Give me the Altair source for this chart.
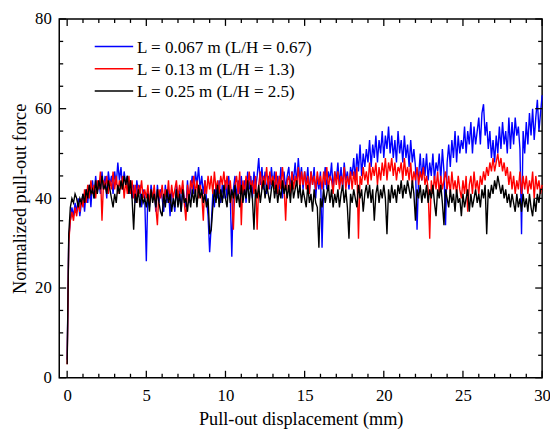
import altair as alt
import pandas as pd

# ---------------- data ----------------
x_start = 0.0
x_step = 0.1

names = ["L = 0.067 m (L/H = 0.67)", "L = 0.13 m (L/H = 1.3)", "L = 0.25 m (L/H = 2.5)"]
colors = ["#0000FF", "#FF0000", "#000000"]

blue = [
    4, 31, 35, 38, 36, 39, 37, 40, 36, 39,
    41, 37, 42, 39, 43, 38, 44, 40, 45, 41,
    44, 41, 46, 42, 45, 40, 46, 43, 45, 41,
    46, 43, 48, 44, 47, 42, 46, 43, 45, 41,
    44, 40, 43, 39, 44, 41, 43, 38, 42, 40,
    26, 42, 38, 43, 40, 42, 37, 43, 39, 42,
    40, 37, 43, 39, 42, 36, 42, 40, 37, 43,
    39, 42, 37, 43, 40, 38, 44, 39, 42, 45,
    41, 46, 43, 47, 42, 45, 41, 44, 40, 36,
    28, 34, 41, 38, 43, 40, 44, 39, 43, 40,
    44, 40, 45, 41, 27, 42, 45, 40, 44, 41,
    45, 40, 44, 39, 46, 42, 45, 40, 46, 42,
    45, 49, 43, 47, 42, 46, 41, 45, 42, 47,
    43, 46, 41, 45, 42, 47, 40, 46, 42, 45,
    47, 42, 46, 44, 48, 43, 49, 44, 47, 42,
    46, 43, 47, 41, 46, 43, 47, 40, 45, 42,
    46, 29, 43, 47, 42, 46, 44, 48, 42, 46,
    44, 48, 43, 47, 42, 48, 44, 46, 42, 47,
    45, 49, 44, 50, 46, 52, 45, 50, 47, 51,
    48, 53, 47, 52, 49, 54, 48, 53, 50, 55,
    49, 54, 51, 56, 50, 54, 49, 53, 48, 55,
    50, 53, 48, 54, 49, 52, 47, 53, 48, 51,
    47, 33, 45, 50, 44, 49, 45, 50, 44, 48,
    45, 50, 44, 48, 46, 50, 44, 51, 46, 34,
    48, 52, 47, 53, 49, 55, 48, 54, 50, 53,
    51, 56, 50, 55, 52, 57, 50, 56, 52, 55,
    58, 52, 59, 61, 54, 57, 51, 55, 49, 53,
    48, 54, 50, 56, 51, 57, 52, 55, 50, 58,
    51, 57, 52, 58, 54, 56, 51, 32, 55, 50,
    57, 52, 59, 54, 60, 53, 58, 62, 55, 59,
    63,
]

red = [
    3, 30, 35, 37, 35, 38, 36, 39, 37, 40,
    38, 42, 39, 43, 40, 44, 41, 43, 40, 44,
    42, 46, 35, 44, 42, 45, 41, 44, 42, 46,
    42, 45, 41, 44, 42, 45, 40, 44, 41, 45,
    41, 44, 40, 43, 39, 43, 41, 44, 40, 42,
    40, 43, 39, 42, 40, 43, 38, 34, 42, 40,
    43, 39, 42, 40, 44, 39, 43, 40, 42, 44,
    40, 43, 41, 44, 39, 35, 43, 40, 44, 42,
    45, 41, 44, 40, 43, 41, 35, 44, 41, 45,
    42, 45, 41, 46, 42, 44, 41, 45, 43, 46,
    42, 45, 41, 44, 40, 33, 43, 45, 41, 46,
    34, 44, 41, 45, 42, 46, 42, 44, 41, 45,
    33, 43, 46, 42, 45, 43, 47, 42, 46, 43,
    45, 42, 46, 41, 45, 42, 47, 43, 35, 44,
    45, 41, 46, 42, 45, 43, 47, 42, 46, 43,
    46, 42, 45, 41, 46, 43, 45, 42, 46, 43,
    45, 42, 46, 43, 47, 42, 45, 44, 41, 46,
    43, 46, 42, 45, 43, 47, 42, 45, 43, 46,
    42, 46, 43, 47, 31, 45, 43, 47, 44, 46,
    43, 48, 44, 47, 45, 48, 43, 47, 44, 48,
    45, 49, 44, 48, 46, 49, 45, 48, 44, 47,
    46, 48, 44, 49, 45, 47, 44, 48, 43, 46,
    44, 47, 43, 46, 44, 47, 43, 45, 42, 31,
    44, 41, 45, 42, 46, 41, 45, 42, 44, 46,
    42, 45, 41, 46, 42, 44, 41, 45, 42, 40,
    44, 41, 45, 37, 43, 45, 41, 46, 42, 44,
    41, 45, 43, 46, 44, 47, 45, 48, 46, 49,
    46, 48, 50, 47, 49, 46, 48, 45, 47, 43,
    46, 42, 45, 41, 44, 42, 46, 41, 45, 42,
    45, 41, 44, 42, 46, 40, 45, 42, 44, 41,
    43,
]

black = [
    3, 32, 38, 40, 39, 41, 40, 38, 40, 39,
    41, 39, 42, 40, 43, 41, 42, 40, 44, 41,
    44, 42, 45, 42, 43, 41, 44, 42, 40, 38,
    41, 39, 43, 41, 44, 42, 45, 43, 45, 41,
    44, 40, 33, 41, 39, 42, 38, 41, 39, 40,
    38, 41, 37, 42, 39, 41, 38, 42, 39, 37,
    36, 41, 38, 42, 39, 41, 37, 40, 38, 42,
    38, 41, 37, 42, 39, 40, 37, 41, 38, 42,
    39, 42, 38, 43, 40, 42, 39, 41, 38, 40,
    32, 33, 38, 42, 39, 43, 38, 42, 39, 43,
    40, 38, 43, 39, 42, 40, 43, 39, 41, 38,
    43, 39, 42, 40, 44, 39, 43, 40, 33, 42,
    40, 43, 39, 42, 44, 40, 43, 41, 39, 42,
    44, 40, 43, 39, 42, 40, 44, 41, 43, 40,
    43, 39, 44, 40, 42, 44, 40, 43, 39, 42,
    40, 38, 43, 39, 41, 37, 42, 39, 38, 29,
    40, 38, 42, 39, 41, 43, 39, 42, 38, 41,
    39, 42, 38, 41, 43, 39, 42, 38, 31, 41,
    39, 42, 40, 38, 43, 40, 42, 37, 41, 43,
    40, 43, 39, 42, 35, 41, 43, 39, 42, 40,
    43, 40, 32, 42, 39, 43, 40, 42, 39, 43,
    41, 44, 40, 43, 41, 44, 42, 40, 44, 41,
    35, 42, 40, 43, 39, 42, 40, 43, 39, 42,
    40, 43, 39, 36, 42, 40, 43, 39, 34, 42,
    40, 38, 42, 39, 41, 37, 42, 39, 40, 36,
    41, 38, 40, 42, 37, 41, 38, 40, 42, 39,
    41, 38, 42, 40, 43, 32, 42, 40, 43, 41,
    44, 42, 45, 43, 41, 43, 40, 42, 39, 41,
    38, 41, 39, 37, 41, 38, 40, 37, 41, 38,
    40, 37, 41, 38, 36, 40, 37, 41, 39, 42,
    42,
]

x_major = [0, 5, 10, 15, 20, 25, 30]
x_minor = [1, 2, 3, 4, 6, 7, 8, 9, 11, 12, 13, 14, 16, 17, 18, 19, 21, 22, 23, 24, 26, 27, 28, 29]
y_major = [0, 20, 40, 60, 80]
y_minor = [5, 10, 15, 25, 30, 35, 45, 50, 55, 65, 70, 75]

# ---------------- chart ----------------
W, H = 490, 364
FONT = "Liberation Serif"

series_values = [blue, red, black]
xs = [round(x_start + i * x_step, 2) for i in range(len(blue))]

xscale = alt.Scale(domain=[-0.5, 30], nice=False, zero=False)
yscale = alt.Scale(domain=[0, 80], nice=False, zero=False)

X = alt.X("x:Q", scale=xscale,
          axis=alt.Axis(values=x_major, tickSize=0, grid=False, domain=False,
                        labelPadding=10, titlePadding=6, labelFlush=False),
          title="Pull-out displacement (mm)")
Y = alt.Y("y:Q", scale=yscale,
          axis=alt.Axis(values=y_major, tickSize=0, grid=False, domain=False,
                        labelPadding=8, titlePadding=5),
          title="Normalized pull-out force")

layers = []
for name, col, vals in zip(names, colors, series_values):
    df = pd.DataFrame({"x": xs, "y": vals, "series": name})
    layers.append(
        alt.Chart(df).mark_line(color=col, strokeWidth=1.4, interpolate="linear")
        .encode(x=X, y=Y)
    )

# inward ticks
def xticks(vals, length):
    d = pd.DataFrame({"x": vals})
    bottom = alt.Chart(d).mark_rule(color="black", strokeWidth=1.3).encode(
        x=X, y=alt.value(H), y2=alt.value(H - length))
    top = alt.Chart(d).mark_rule(color="black", strokeWidth=1.3).encode(
        x=X, y=alt.value(0), y2=alt.value(length))
    return [bottom, top]

def yticks(vals, length):
    d = pd.DataFrame({"y": vals})
    left = alt.Chart(d).mark_rule(color="black", strokeWidth=1.3).encode(
        y=Y, x=alt.value(0), x2=alt.value(length))
    right = alt.Chart(d).mark_rule(color="black", strokeWidth=1.3).encode(
        y=Y, x=alt.value(W), x2=alt.value(W - length))
    return [left, right]

ticks = xticks(x_major, 7) + xticks(x_minor, 4) + yticks(y_major, 7) + yticks(y_minor, 4)

# manual legend
legend_rows = [28, 50.5, 73]
legend = []
for name, col, ry in zip(names, colors, legend_rows):
    d = pd.DataFrame({"label": [name]})
    legend.append(alt.Chart(d).mark_rule(color=col, strokeWidth=1.5).encode(
        x=alt.value(36), x2=alt.value(75), y=alt.value(ry)))
    legend.append(alt.Chart(d).mark_text(align="left", baseline="middle", font=FONT,
                                         fontSize=17.3, color="black").encode(
        x=alt.value(79), y=alt.value(ry + 1), text="label:N"))

chart = alt.layer(*layers, *ticks, *legend).properties(
    width=W, height=H,
    background="white",
    autosize=alt.AutoSizeParams(type="none"),
    padding={"left": 52, "top": 8, "right": 8, "bottom": 56},
).configure_view(
    stroke="black", strokeWidth=1.5
).configure_axis(
    labelFont=FONT, labelFontSize=17, labelColor="black",
    titleFont=FONT, titleFontSize=18.5, titleColor="black", titleFontWeight="normal",
)

chart.save("out.html", embed_options={"renderer": "svg", "actions": False})
